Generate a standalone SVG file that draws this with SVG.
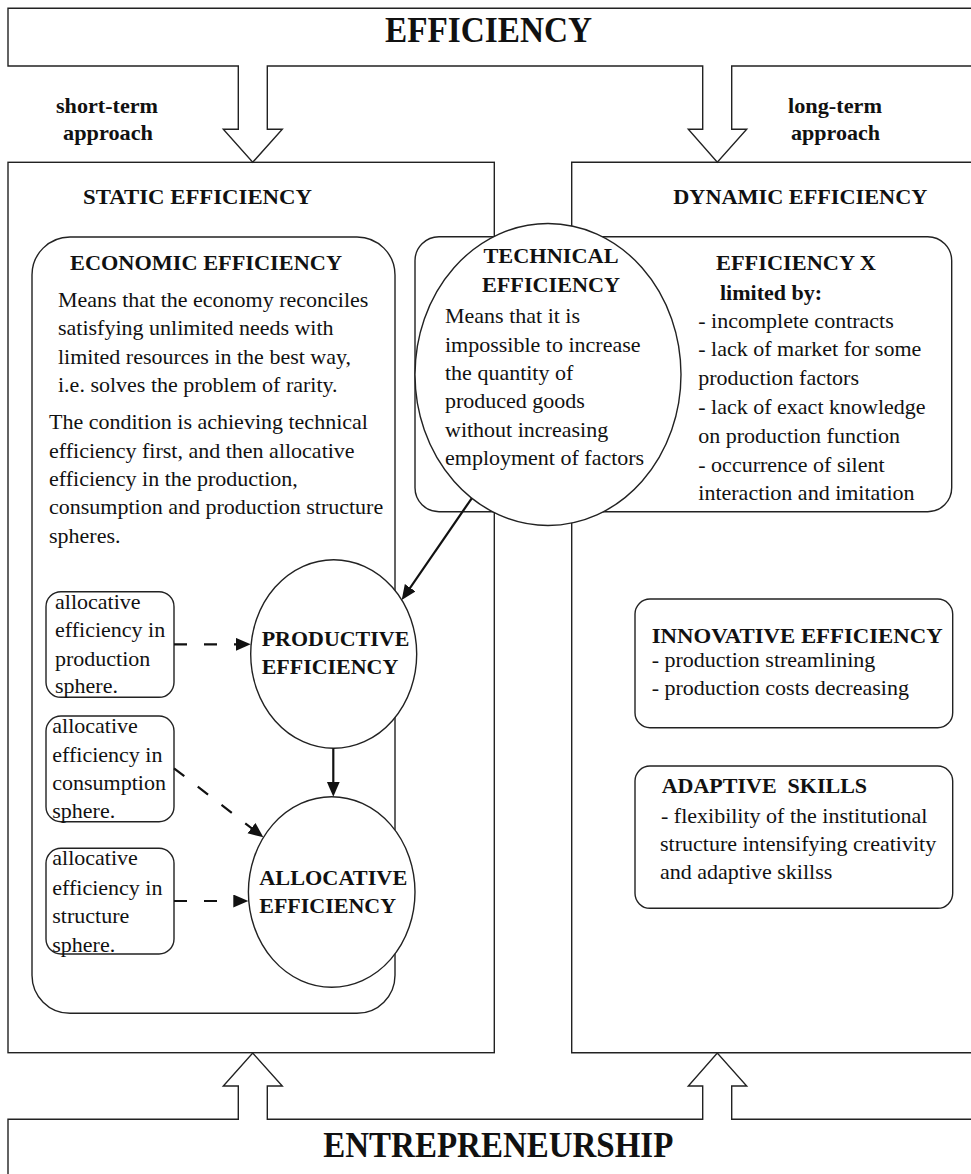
<svg xmlns="http://www.w3.org/2000/svg" width="971" height="1174" viewBox="0 0 971 1174">
<defs>
<style>
.ln{fill:none;stroke:#222;stroke-width:1.4}
.wb{fill:#fff;stroke:#222;stroke-width:1.4}
.t{font-family:"Liberation Serif","Times New Roman",serif;font-size:22px;fill:#111}
.b{font-family:"Liberation Serif","Times New Roman",serif;font-size:22px;font-weight:bold;fill:#111}
.big{font-family:"Liberation Serif","Times New Roman",serif;font-weight:bold;fill:#111}
.ar{fill:none;stroke:#111;stroke-width:2.2}
.da{fill:none;stroke:#111;stroke-width:2.2;stroke-dasharray:13 17}
</style>
<marker id="ah" markerUnits="userSpaceOnUse" markerWidth="16" markerHeight="14" refX="9" refY="6.5" orient="auto">
<path d="M0,0 L15,6.5 L0,13 z" fill="#111"/>
</marker>
</defs>
<rect width="971" height="1174" fill="#fff"/>

<g id="efficiency">
<path class="ln" d="M975 8.3 H8 V66 H238.3 V129.3 H223.3 L252.7 162.3 L282.3 129.3 H267.3 V66 H702.7 V129.3 H688.3 L717.3 162.3 L746.7 129.3 H731.7 V66 H975"/>
<text class="big" x="385" y="41.7" font-size="35" textLength="207" lengthAdjust="spacingAndGlyphs">EFFICIENCY</text>
</g>
<g id="short-term-label">
<text class="b" x="56" y="113" textLength="102" lengthAdjust="spacingAndGlyphs">short-term</text>
<text class="b" x="63" y="140" textLength="90" lengthAdjust="spacingAndGlyphs">approach</text>
</g>
<g id="long-term-label">
<text class="b" x="788" y="113" textLength="94" lengthAdjust="spacingAndGlyphs">long-term</text>
<text class="b" x="791" y="140" textLength="89" lengthAdjust="spacingAndGlyphs">approach</text>
</g>

<g id="static">
<rect class="ln" x="8" y="162.3" width="486.3" height="890.4"/>
<text class="b" x="83" y="204" font-size="24" textLength="229" lengthAdjust="spacingAndGlyphs">STATIC EFFICIENCY</text>
</g>
<g id="dynamic">
<path class="ln" d="M975 162.3 H571.7 V1052.7 H975"/>
<text class="b" x="673.3" y="204" font-size="24" textLength="254" lengthAdjust="spacingAndGlyphs">DYNAMIC EFFICIENCY</text>
</g>

<g id="economic">
<rect class="ln" x="32" y="237" width="363" height="776.3" rx="38"/>
<text class="b" x="70" y="270" textLength="272" lengthAdjust="spacingAndGlyphs">ECONOMIC EFFICIENCY</text>
<text class="t" x="58" y="307">Means that the economy reconciles</text>
<text class="t" x="58" y="335.3">satisfying unlimited needs with</text>
<text class="t" x="58" y="363.7">limited resources in the best way,</text>
<text class="t" x="58" y="392">i.e. solves the problem of rarity.</text>
<text class="t" x="49" y="429.3">The condition is achieving technical</text>
<text class="t" x="49" y="457.7">efficiency first, and then allocative</text>
<text class="t" x="49" y="486">efficiency in the production,</text>
<text class="t" x="49" y="514.3">consumption and production structure</text>
<text class="t" x="49" y="542.7">spheres.</text>
</g>

<g id="efficiency-x">
<rect class="wb" x="415" y="236.7" width="536.7" height="275" rx="24"/>
<text class="b" x="716" y="270" textLength="160" lengthAdjust="spacingAndGlyphs">EFFICIENCY X</text>
<text class="b" x="720" y="300">limited by:</text>
<text class="t" x="698.3" y="327.5">- incomplete contracts</text>
<text class="t" x="698.3" y="356.3">- lack of market for some</text>
<text class="t" x="698.3" y="385.1">production factors</text>
<text class="t" x="698.3" y="413.9">- lack of exact knowledge</text>
<text class="t" x="698.3" y="442.7">on production function</text>
<text class="t" x="698.3" y="471.5">- occurrence of silent</text>
<text class="t" x="698.3" y="500.3">interaction and imitation</text>
</g>

<g id="technical">
<ellipse class="wb" cx="548" cy="374.5" rx="133" ry="151"/>
<text class="b" x="551" y="263.3" font-size="23" text-anchor="middle" textLength="135" lengthAdjust="spacingAndGlyphs">TECHNICAL</text>
<text class="b" x="551" y="291.7" font-size="23" text-anchor="middle" textLength="138" lengthAdjust="spacingAndGlyphs">EFFICIENCY</text>
<text class="t" x="445" y="323.3">Means that it is</text>
<text class="t" x="445" y="351.7">impossible to increase</text>
<text class="t" x="445" y="380">the quantity of</text>
<text class="t" x="445" y="408.3">produced goods</text>
<text class="t" x="445" y="436.7">without increasing</text>
<text class="t" x="445" y="465">employment of factors</text>
</g>

<g id="alloc-production">
<rect class="wb" x="46" y="591.7" width="128" height="105.6" rx="15"/>
<text class="t" x="55" y="609.3">allocative</text>
<text class="t" x="55" y="637.3">efficiency in</text>
<text class="t" x="55" y="665.5">production</text>
<text class="t" x="55" y="693.3">sphere.</text>
</g>
<g id="alloc-consumption">
<rect class="wb" x="46" y="716" width="128" height="105.7" rx="15"/>
<text class="t" x="52.3" y="732.7">allocative</text>
<text class="t" x="52.3" y="761.7">efficiency in</text>
<text class="t" x="52.3" y="790">consumption</text>
<text class="t" x="52.3" y="818.3">sphere.</text>
</g>
<g id="alloc-structure">
<rect class="wb" x="46" y="848.3" width="128" height="105.7" rx="15"/>
<text class="t" x="52.3" y="865.3">allocative</text>
<text class="t" x="52.3" y="895">efficiency in</text>
<text class="t" x="52.3" y="923.3">structure</text>
<text class="t" x="52.3" y="951.5">sphere.</text>
</g>

<g id="productive">
<ellipse class="wb" cx="333.7" cy="654" rx="83" ry="94.3"/>
<text class="b" x="261.7" y="646" font-size="23" textLength="147.6" lengthAdjust="spacingAndGlyphs">PRODUCTIVE</text>
<text class="b" x="261.7" y="674.3" font-size="23" textLength="136.6" lengthAdjust="spacingAndGlyphs">EFFICIENCY</text>
</g>
<g id="allocative">
<ellipse class="wb" cx="331.7" cy="892" rx="83.3" ry="95.3"/>
<text class="b" x="259.3" y="885" font-size="23" textLength="148" lengthAdjust="spacingAndGlyphs">ALLOCATIVE</text>
<text class="b" x="259.3" y="913.3" font-size="23" textLength="136.7" lengthAdjust="spacingAndGlyphs">EFFICIENCY</text>
</g>

<g id="innovative">
<rect class="wb" x="635" y="599" width="317.7" height="128.7" rx="15"/>
<text class="b" x="651.7" y="643.3" textLength="291" lengthAdjust="spacingAndGlyphs">INNOVATIVE EFFICIENCY</text>
<text class="t" x="651.7" y="667.3">- production streamlining</text>
<text class="t" x="651.7" y="695">- production costs decreasing</text>
</g>
<g id="adaptive">
<rect class="wb" x="635" y="766" width="317.7" height="142.3" rx="15"/>
<text class="b" x="661.7" y="793.3" xml:space="preserve">ADAPTIVE  SKILLS</text>
<text class="t" x="661" y="822.7">- flexibility of the institutional</text>
<text class="t" x="660" y="851">structure intensifying creativity</text>
<text class="t" x="660" y="879.3">and adaptive skillss</text>
</g>

<g id="connectors">
<line class="ar" x1="471.7" y1="498.3" x2="405.1" y2="595.1" marker-end="url(#ah)"/>
<line class="ar" x1="333.3" y1="748.3" x2="333.3" y2="790.7" marker-end="url(#ah)"/>
<line class="da" x1="174" y1="644.3" x2="244.7" y2="644.3" marker-end="url(#ah)"/>
<line class="da" x1="174" y1="768.3" x2="258.6" y2="833.6" marker-end="url(#ah)"/>
<line class="da" x1="174" y1="901" x2="242.3" y2="901" marker-end="url(#ah)"/>
</g>

<g id="entrepreneurship">
<path class="ln" d="M975 1119.3 H731.7 V1086 H746.7 L717.3 1053 L688.3 1086 H702.7 V1119.3 H267.3 V1086 H282.3 L252.7 1053 L223.3 1086 H238.3 V1119.3 H8 V1180"/>
<text class="big" x="323.3" y="1156.7" font-size="35" textLength="350" lengthAdjust="spacingAndGlyphs">ENTREPRENEURSHIP</text>
</g>
</svg>
